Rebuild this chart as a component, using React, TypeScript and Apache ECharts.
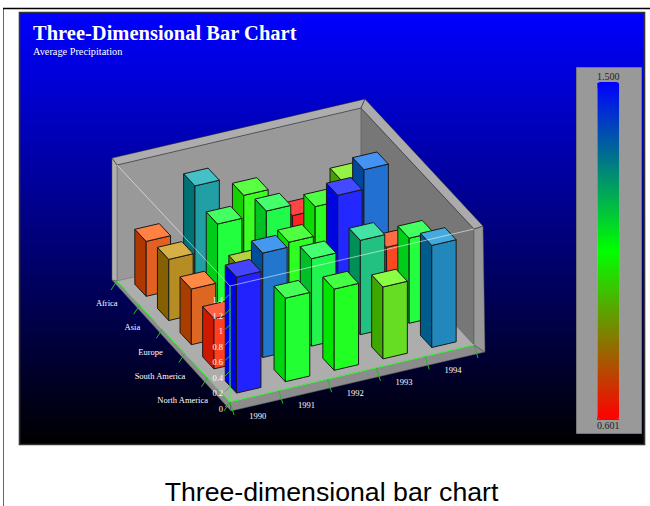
import React, { useEffect, useRef } from "react";
import * as echarts from "echarts";

const categories = ["North America", "South America", "Europe", "Asia", "Africa"];
const years = ["1990", "1991", "1992", "1993", "1994"];
const zTicks = [0, 0.2, 0.4, 0.6, 0.8, 1, 1.2, 1.4];
const northAmerica = [1.5, 1.08, 1.05, 0.93, 1.32];
const southAmerica = [0.65, 1.35, 1.13, 1.22, 1.1];
const europe = [0.72, 0.85, 1.03, 1.49, 0.67];
const asia = [0.79, 1.1, 1.12, 1.03, 1.36];
const africa = [0.71, 1.28, 1.01, 0.601, 0.91];
const rows = [northAmerica, southAmerica, europe, asia, africa];
const valueMin = 0.601;
const valueMax = 1.5;

// Oblique projection: the grid gives the year and value scales, these give the shear.
const GRID = { left: 230, top: 286, width: 244, height: 116 };
const SHEAR_YEAR = -11.4; // px of rise per year
const CAT_DX = -22.6;
const CAT_DY = -24.2;
const BAR = 0.25; // half width in cell units

const barData: number[][] = [];
for (let k = rows.length - 1; k >= 0; k--) {
  for (let j = years.length - 1; j >= 0; j--) {
    barData.push([j, rows[k][j], k]);
  }
}

const proj = (api: any, j: number, k: number, v: number): number[] => {
  const p = api.coord([j, v]);
  return [p[0] + CAT_DX * k, p[1] + SHEAR_YEAR * j + CAT_DY * k];
};

const poly = (points: number[][], fill: string, stroke = "#1a1a1a", lineWidth = 1) => ({
  type: "polygon",
  shape: { points },
  style: { fill, stroke, lineWidth },
});
const seg = (a: number[], b: number[], stroke: string, lineWidth = 1) => ({
  type: "line",
  shape: { x1: a[0], y1: a[1], x2: b[0], y2: b[1] },
  style: { stroke, lineWidth, fill: "none" },
});
const label = (x: number, y: number, text: string, align: string) => ({
  type: "text",
  x,
  y,
  style: {
    text,
    fill: "#fff",
    font: '8.5px "Liberation Serif"',
    align,
    verticalAlign: "middle",
  },
});
const off = (p: number[], dx: number, dy: number) => [p[0] + dx, p[1] + dy];

const shade = (color: string, add: number, mul = 1) => {
  const c = echarts.color.parse(color) as number[];
  const f = (n: number) => Math.max(0, Math.min(255, Math.round(n * mul + add)));
  return `rgb(${f(c[0])},${f(c[1])},${f(c[2])})`;
};

const renderFrame = (_: any, api: any) => {
  const n = years.length;
  const m = categories.length;
  const top = valueMax;
  const O = proj(api, 0, 0, 0);
  const R = proj(api, n, 0, 0);
  const B = proj(api, n, m, 0);
  const L = proj(api, 0, m, 0);
  const Bt = proj(api, n, m, top);
  const Lt = proj(api, 0, m, top);
  const Rt = proj(api, n, 0, top);
  const LtO = off(Lt, -5, -7);
  const BtO = off(Bt, 4, -9);
  const RtO = off(Rt, 9, -3);
  const LO = off(L, -5, -1);
  const RO = off(R, 11, 7);
  const OO = off(O, 1, 9);
  return {
    type: "group",
    children: [
      poly([L, O, OO, LO], "#8c8c8c", "#555", 0.5),
      poly([O, R, RO, OO], "#8c8c8c", "#555", 0.5),
      poly([Lt, Bt, B, L], "#999999", "#777", 0.5),
      poly([LtO, Lt, L, LO], "#b0b0b0", "#555", 0.5),
      poly([Bt, Rt, R, B], "#777777", "#555", 0.5),
      poly([Rt, RtO, RO, R], "#999999", "#555", 0.5),
      poly([LtO, BtO, Bt, Lt], "#adadad", "#222", 0.5),
      poly([BtO, RtO, Rt, Bt], "#ababab", "#222", 0.5),
      poly([L, B, R, O], "#adadad", "#888", 0.5),
    ],
  };
};

const renderBar = (_: any, api: any) => {
  const j = api.value(0);
  const v = api.value(1);
  const k = api.value(2);
  const color = api.visual("color");
  const cj = j + 0.5;
  const ck = k + 0.5;
  const corner = (a: number, b: number, z: number) =>
    proj(api, cj + a * BAR, ck + b * BAR, z);
  return {
    type: "group",
    children: [
      poly(
        [corner(-1, 1, 0), corner(-1, -1, 0), corner(-1, -1, v), corner(-1, 1, v)],
        shade(color, 0, 0.9)
      ),
      poly(
        [corner(-1, -1, 0), corner(1, -1, 0), corner(1, -1, v), corner(-1, -1, v)],
        shade(color, 34)
      ),
      poly(
        [corner(-1, -1, v), corner(1, -1, v), corner(1, 1, v), corner(-1, 1, v)],
        shade(color, 68)
      ),
    ],
  };
};

const renderAxes = (_: any, api: any) => {
  const n = years.length;
  const m = categories.length;
  const green = "#33ff33";
  const tickGreen = "#22bb22";
  const O = proj(api, 0, 0, 0);
  const R = proj(api, n, 0, 0);
  const L = proj(api, 0, m, 0);
  const Ot = proj(api, 0, 0, valueMax);
  const Lt = proj(api, 0, m, valueMax);
  const Rt = proj(api, n, 0, valueMax);
  const children: any[] = [
    seg(Lt, Ot, "rgba(255,255,255,0.55)"),
    seg(Ot, Rt, "rgba(255,255,255,0.55)"),
    seg(O, R, green),
    seg(O, L, green),
    seg(O, Ot, green),
  ];
  for (let j = 0; j <= n; j++) {
    const p = proj(api, j, 0, 0);
    children.push(seg(p, off(p, 4, 13), tickGreen));
  }
  for (let k = 0; k <= m; k++) {
    const p = proj(api, 0, k, 0);
    children.push(seg(p, off(p, -6, 9), tickGreen));
  }
  zTicks.forEach((z) => {
    const p = proj(api, 0, 0, z);
    children.push(seg(p, off(p, -5, 5), tickGreen));
  });
  years.forEach((y, j) => {
    const p = proj(api, j + 0.5, 0, 0);
    children.push(label(p[0] + 3.3, p[1] + 19.7, y, "center"));
  });
  categories.forEach((c, k) => {
    const p = proj(api, 0, k + 0.5, 0);
    children.push(label(p[0] - 10.7, p[1] + 10, c, "right"));
  });
  return { type: "group", children };
};

export default function App() {
  const ref = useRef<HTMLDivElement>(null);
  useEffect(() => {
    const chart = echarts.init(ref.current!, undefined, { renderer: "svg" });
    chart.setOption({
      animation: false,
      backgroundColor: "#fff",
      title: {
        left: 33,
        top: 22,
        padding: 0,
        text: "Three-Dimensional Bar Chart",
        textStyle: {
          color: "#fff",
          fontFamily: "Liberation Serif",
          fontWeight: "bold",
          fontSize: 20.5,
          lineHeight: 22,
        },
        subtext: "Average Precipitation",
        itemGap: 1,
        subtextStyle: { color: "#fff", fontFamily: "Liberation Serif", fontSize: 10.3, lineHeight: 12 },
      },
      grid: { ...GRID },
      xAxis: { type: "value", min: 0, max: years.length, show: false },
      yAxis: {
        type: "value",
        min: 0,
        max: valueMax,
        interval: 0.2,
        axisLine: { show: false },
        axisTick: { show: false },
        splitLine: { show: false },
        axisLabel: {
          color: "#fff",
          fontFamily: "Liberation Serif",
          fontSize: 8.5,
          margin: 7,
          verticalAlign: "top",
          padding: [2, 0, 0, 0],
          showMaxLabel: false,
        },
        z: 10,
      },
      visualMap: {
        type: "continuous",
        min: valueMin,
        max: valueMax,
        dimension: 1,
        seriesIndex: 1,
        calculable: false,
        realtime: false,
        padding: 0,
        left: 597,
        top: 71,
        itemWidth: 22,
        itemHeight: 337,
        text: [valueMax.toFixed(3), valueMin.toFixed(3)],
        textGap: 1,
        textStyle: { color: "#222", fontFamily: "Liberation Serif", fontSize: 10 },
        inRange: { color: ["#ff0000", "#00ff00", "#0000ff"] },
        hoverLink: false,
      },
      graphic: [
        {
          type: "rect",
          z: -20,
          silent: true,
          shape: { x: 3.5, y: 8.5, width: 700, height: 600 },
          style: { fill: "#fff", stroke: "#666", lineWidth: 1 },
        },
        {
          type: "line",
          z: -19,
          silent: true,
          shape: { x1: 3, y1: 8.5, x2: 650, y2: 8.5 },
          style: { stroke: "#000", lineWidth: 1.5 },
        },
        {
          type: "rect",
          z: -10,
          silent: true,
          shape: { x: 19.5, y: 12.5, width: 625, height: 432 },
          style: {
            stroke: "#333",
            lineWidth: 1.6,
            fill: {
              type: "linear",
              x: 0,
              y: 0,
              x2: 0,
              y2: 1,
              colorStops: [
                { offset: 0, color: "#0000ff" },
                { offset: 1, color: "#000000" },
              ],
            },
          },
        },
        {
          type: "rect",
          z: -5,
          silent: true,
          shape: { x: 576.5, y: 67.5, width: 65, height: 366 },
          style: { fill: "#999999", stroke: "#777", lineWidth: 1 },
        },
        {
          type: "rect",
          z: -4,
          silent: true,
          shape: { x: 597, y: 83, width: 22, height: 5 },
          style: { fill: "#0000ff" },
        },
        {
          type: "rect",
          z: -4,
          silent: true,
          shape: { x: 597, y: 415, width: 22, height: 5 },
          style: { fill: "#ff0000" },
        },
        {
          type: "text",
          x: 331.5,
          y: 492,
          silent: true,
          style: {
            text: "Three-dimensional bar chart",
            fill: "#000",
            font: '26.7px "Liberation Sans"',
            align: "center",
            verticalAlign: "middle",
          },
        },
      ],
      series: [
        {
          type: "custom",
          name: "frame",
          coordinateSystem: "cartesian2d",
          clip: false,
          silent: true,
          z: 1,
          data: [[0, 0]],
          renderItem: renderFrame,
        },
        {
          type: "custom",
          name: "precipitation",
          coordinateSystem: "cartesian2d",
          clip: false,
          silent: true,
          z: 2,
          encode: { x: 0, y: 1 },
          data: barData,
          renderItem: renderBar,
        },
        {
          type: "custom",
          name: "axes",
          coordinateSystem: "cartesian2d",
          clip: false,
          silent: true,
          z: 3,
          data: [[0, 0]],
          renderItem: renderAxes,
        },
      ],
    });
    return () => chart.dispose();
  }, []);
  return (
    <div
      ref={ref}
      style={{ position: "absolute", left: 0, top: 0, width: 650, height: 506, overflow: "hidden" }}
    />
  );
}
